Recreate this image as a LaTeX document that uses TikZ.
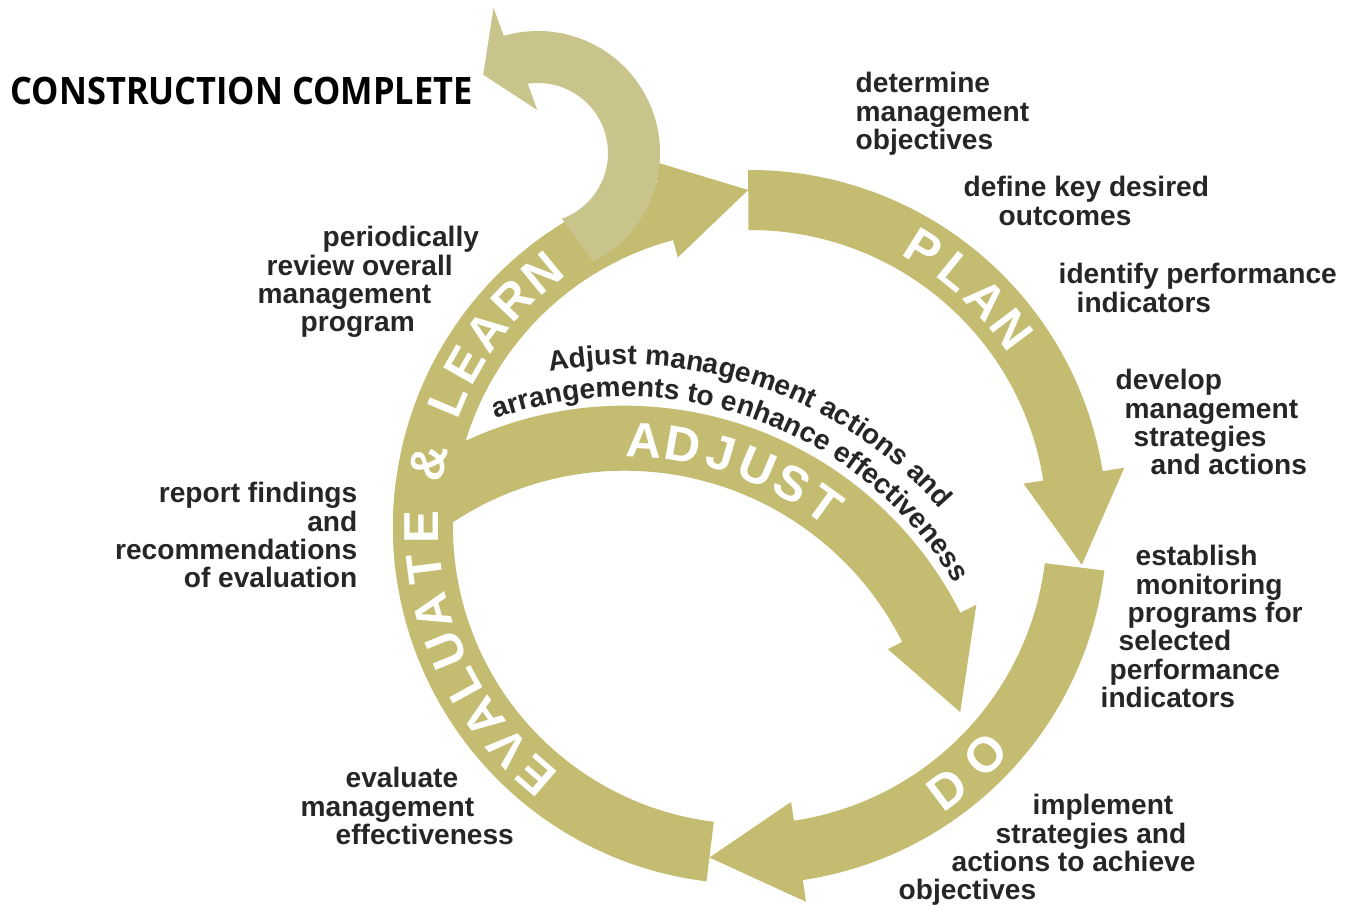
\documentclass[tikz,border=0pt]{standalone}
\usepackage{fontspec}
\setmainfont{Liberation Sans}
\newfontfamily\signfont{Open Sans}
\usetikzlibrary{decorations.text}

\definecolor{bandolive}{HTML}{C4BD71}
\definecolor{exitolive}{HTML}{C8C48B}
\definecolor{ink}{HTML}{262626}

\newcommand{\notefont}{\fontsize{8}{8.1}\selectfont\bfseries}
\newcommand{\ringfont}{\fontsize{14}{14}\selectfont\bfseries}

\tikzset{
  band/.style={fill=bandolive},
  note/.style={font=\notefont, text=ink, inner sep=0pt, align=left, anchor=north west},
  ringletter/.style={font=\ringfont, text=white, inner sep=0pt},
  curvetext/.style={decorate, decoration={text along path, text align=center, text color=ink}},
}

\begin{document}
\begin{tikzpicture}
\useasboundingbox (0,0) rectangle (13.53,9.06);

% plan, do, evaluate: one ring cut in three arrows
\begin{scope}[shift={(7.50,3.79)}]
\fill[band] (90.3:3.57) arc[start angle=90.3, end angle=9, radius=3.57]
  -- (9:3.79) -- (-6.5:3.34) -- (9:2.77) -- (9:2.97)
  arc[start angle=9, end angle=90.3, radius=2.97] -- cycle;
\fill[band] (-7:3.57) arc[start angle=-7, end angle=-81.5, radius=3.57]
  -- (-81.5:3.79) -- (-97:3.33) -- (-81.5:2.78) -- (-81.5:2.97)
  arc[start angle=-81.5, end angle=-7, radius=2.97] -- cycle;
\fill[band] (263:3.57) arc[start angle=263, end angle=105, radius=3.57]
  -- (105:3.79) -- (90.3:3.37) -- (105:2.79) -- (105:2.97)
  arc[start angle=105, end angle=263, radius=2.97] -- cycle;
\end{scope}

% adjust loop, its tail hidden in the ring
\begin{scope}
\clip (7.50,3.79) circle (3.57);
\fill[band, shift={(6.244,1.243)}] (140:3.76) arc[start angle=140, end angle=26.7, radius=3.76]
  -- (26.7:3.94) -- (11.7:3.43) -- (26.7:2.95) -- (26.7:3.11)
  arc[start angle=26.7, end angle=140, radius=3.11] -- cycle;
\end{scope}

% way out of the cycle
\fill[exitolive, shift={(5.38,7.53)}] (-63:1.22) arc[start angle=-63, end angle=106.3, radius=1.22]
  -- (107:1.52) -- (125:0.955) -- (91:0.43) -- (98.4:0.70)
  arc[start angle=98.4, end angle=-70, radius=0.70] -- cycle;

% words on the ring
\begin{scope}[shift={(7.50,3.79)}]
\foreach \ch/\a in {P/58,L/51,A/44,N/37}
  \node[ringletter, rotate=\a-90] (plan-\ch) at (\a:3.28) {\ch};
\foreach \ch/\a in {D/-53,O/-44}
  \node[ringletter, rotate=\a+90] (do-\ch) at (\a:3.28) {\ch};
\foreach \ch/\a [count=\i] in {E/229.2,V/222.4,A/215.6,L/208.8,U/202,A/194.9,T/187.3,E/180,
    \&/168.7,L/157.3,E/150.3,A/143.3,R/136.3,N/129.3}
  \node[ringletter, rotate=\a-90] (eval-\i) at (\a:3.28) {\ch};
\end{scope}

\begin{scope}[shift={(6.244,1.243)}]
\foreach \ch/\a [count=\i] in {A/86.6,D/80.1,J/73.6,U/67.1,S/60.6,T/54.1}
  \node[ringletter, rotate=\a-90] (adj-\i) at (\a:3.42) {\ch};
\path[curvetext, decoration={text={|\notefont|Adjust management actions and}}]
  (110.6:4.17) arc[start angle=110.6, end angle=30.6, radius=4.17];
\path[curvetext, decoration={text={|\notefont|arrangements to enhance effectiveness}}]
  (110.3:3.85) arc[start angle=110.3, end angle=30.3, radius=3.85];
\end{scope}

\node[anchor=base west, inner sep=0pt, font=\signfont\fontsize{10.75}{12}\selectfont\bfseries] (complete)
  at (0.10,8.01) {\scalebox{0.91}[1]{CONSTRUCTION COMPLETE}};

% steps around the ring
\node[note] (objectives) at (8.55,8.345) {determine\\management\\objectives};
\node[note] (outcomes) at (9.63,7.305) {define key desired\\\hspace*{0.35cm}outcomes};
\node[note] (indicators) at (10.58,6.435) {identify performance\\\hspace*{0.18cm}indicators};
\node[note] (strategies) at (11.15,5.375)
  {develop\\\hspace*{0.09cm}management\\\hspace*{0.18cm}strategies\\\hspace*{0.35cm}and actions};
\node[note] (monitoring) at (11.00,3.615)
  {\hspace*{0.35cm}establish\\\hspace*{0.35cm}monitoring\\\hspace*{0.27cm}programs for\\
   \hspace*{0.18cm}selected\\\hspace*{0.09cm}performance\\indicators};
\node[note] (implement) at (8.98,1.125)
  {\hspace*{1.34cm}implement\\\hspace*{0.97cm}strategies and\\\hspace*{0.53cm}actions to achieve\\objectives};
\node[note] (evaluate) at (3.00,1.395)
  {\hspace*{0.45cm}evaluate\\management\\\hspace*{0.35cm}effectiveness};
\node[note, align=right, anchor=north east] (report) at (3.58,4.245)
  {report findings\\and\\recommendations\\of evaluation};
\node[note] (review) at (2.57,6.805)
  {\hspace*{0.65cm}periodically\\\hspace*{0.09cm}review overall\\management\\\hspace*{0.43cm}program};
\end{tikzpicture}
\end{document}
